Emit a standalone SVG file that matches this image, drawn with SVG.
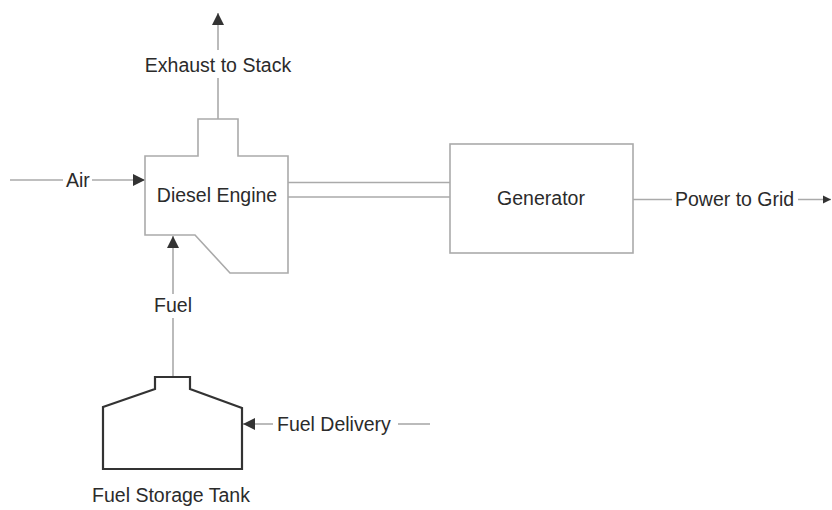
<svg xmlns="http://www.w3.org/2000/svg" width="832" height="510" viewBox="0 0 832 510">
<style>
.ln{fill:none;stroke:#aaaaaa;stroke-width:1.6}
.eq{fill:#fff;stroke:#aaaaaa;stroke-width:1.6}
.tank{fill:#fff;stroke:#333;stroke-width:2.2;stroke-linejoin:miter}
text{font-family:"Liberation Sans",Arial,sans-serif;font-size:19.5px;fill:#2b2b2b}
</style>
<defs>
<marker id="ah" viewBox="0 0 10 10" markerWidth="14" markerHeight="12" refX="10" refY="5" orient="auto" markerUnits="userSpaceOnUse">
<path d="M0,0 L10,5 L0,10 z" fill="#333"/>
</marker>
<marker id="ahs" viewBox="0 0 10 10" markerWidth="8" markerHeight="9" refX="10" refY="5" orient="auto" markerUnits="userSpaceOnUse">
<path d="M0,0 L10,5 L0,10 z" fill="#333"/>
</marker>
</defs>
<g id="connectors">
<line class="ln" x1="218" y1="119" x2="218" y2="78"/>
<line class="ln" x1="218" y1="50" x2="218" y2="13" marker-end="url(#ah)"/>
<line class="ln" x1="10" y1="180" x2="63" y2="180"/>
<line class="ln" x1="92" y1="180" x2="145" y2="180" marker-end="url(#ah)"/>
<line class="ln" x1="288" y1="182.5" x2="450" y2="182.5"/>
<line class="ln" x1="288" y1="197" x2="450" y2="197"/>
<line class="ln" x1="633" y1="199.5" x2="672" y2="199.5"/>
<line class="ln" x1="798" y1="199.5" x2="831" y2="199.5" marker-end="url(#ahs)"/>
<line class="ln" x1="173" y1="377" x2="173" y2="318"/>
<line class="ln" x1="173" y1="294" x2="173" y2="236" marker-end="url(#ah)"/>
<line class="ln" x1="430" y1="424" x2="398" y2="424"/>
<line class="ln" x1="273" y1="424" x2="243" y2="424" marker-end="url(#ah)"/>
<text x="218" y="72" text-anchor="middle">Exhaust to Stack</text>
<text x="66" y="187">Air</text>
<text x="675" y="206">Power to Grid</text>
<text x="173" y="312" text-anchor="middle">Fuel</text>
<text x="277" y="431">Fuel Delivery</text>
</g>
<g id="diesel-engine">
<path class="eq" d="M145,156 L198,156 L198,119 L238,119 L238,156 L288,156 L288,273 L230,273 L195,235 L145,235 Z"/>
<text x="217" y="202" text-anchor="middle">Diesel Engine</text>
</g>
<g id="generator">
<rect class="eq" x="450" y="144" width="183" height="109"/>
<text x="541" y="205" text-anchor="middle">Generator</text>
</g>
<g id="fuel-storage-tank">
<path class="tank" d="M103,469 L103,407 L155,389 L155,377 L190,377 L190,389 L242,408 L242,469 Z"/>
<text x="171" y="502" text-anchor="middle">Fuel Storage Tank</text>
</g>
</svg>
